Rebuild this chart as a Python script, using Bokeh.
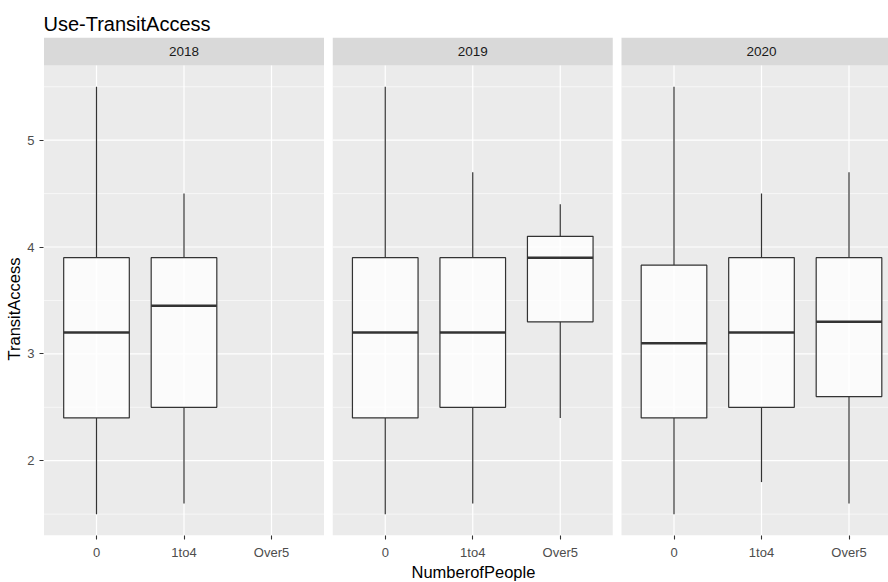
from bokeh.plotting import figure
from bokeh.models import ColumnDataSource, Range1d, FixedTicker, CustomJSTickFormatter, Title
from bokeh.core.properties import value
from bokeh.embed import file_html
from bokeh.resources import INLINE

# ---- data -------------------------------------------------------------
years = ["2018", "2019", "2020"]
people_levels = ["0", "1to4", "Over5"]
y_ticks = [2, 3, 4, 5]

box_year = ["2018", "2018", "2019", "2019", "2019", "2020", "2020", "2020"]
box_people = ["0", "1to4", "0", "1to4", "Over5", "0", "1to4", "Over5"]
whisker_low = [1.5, 1.6, 1.5, 1.6, 2.4, 1.5, 1.8, 1.6]
quart_1 = [2.4, 2.5, 2.4, 2.5, 3.3, 2.4, 2.5, 2.6]
median = [3.2, 3.45, 3.2, 3.2, 3.9, 3.1, 3.2, 3.3]
quart_3 = [3.9, 3.9, 3.9, 3.9, 4.1, 3.83, 3.9, 3.9]
whisker_high = [5.5, 4.5, 5.5, 4.7, 4.4, 5.5, 4.5, 4.7]

# ---- layout constants --------------------------------------------------
FONT = "Liberation Sans"
W, H = 888, 582
BORDER_L, BORDER_R, BORDER_T, BORDER_B = 43, 0, 37, 45
STRIP_PX = 28          # height of the facet label band
X_PX_PER_UNIT = 87.5   # one category step
PANEL_STEP = 3.3       # facet width (3.2) plus spacing, in category units
BOX_WIDTH = 0.75

n_cat = len(people_levels)
offsets = [k * PANEL_STEP for k in range(len(years))]
panel_left = [o + 0.4 for o in offsets]
panel_right = [o + n_cat + 0.6 for o in offsets]

y_lo, y_hi = min(whisker_low), max(whisker_high)
pad = 0.05 * (y_hi - y_lo)
panel_bottom, panel_top = y_lo - pad, y_hi + pad
frame_h = H - BORDER_T - BORDER_B
y_px_per_unit = (frame_h - STRIP_PX) / (panel_top - panel_bottom)
strip_top = panel_top + STRIP_PX / y_px_per_unit

frame_w = W - BORDER_L - BORDER_R
x_start = panel_left[0] - 0.5 / X_PX_PER_UNIT
x_end = x_start + frame_w / X_PX_PER_UNIT

# ---- derived sources ---------------------------------------------------
xpos = [offsets[years.index(y)] + people_levels.index(g) + 1
        for y, g in zip(box_year, box_people)]
boxes = ColumnDataSource(dict(
    x=xpos,
    left=[x - BOX_WIDTH / 2 for x in xpos],
    right=[x + BOX_WIDTH / 2 for x in xpos],
    low=whisker_low, q1=quart_1, med=median, q3=quart_3, high=whisker_high,
))

tick_pos, tick_lab = [], []
for o in offsets:
    for j, lab in enumerate(people_levels):
        tick_pos.append(o + j + 1)
        tick_lab.append(lab)

minor_y = [t - 0.5 for t in y_ticks] + [y_ticks[-1] + 0.5]
minor_y = [m for m in minor_y if panel_bottom < m < panel_top]

def hlines(levels):
    x0, x1, yy = [], [], []
    for l, r in zip(panel_left, panel_right):
        for v in levels:
            x0.append(l); x1.append(r); yy.append(v)
    return ColumnDataSource(dict(x0=x0, x1=x1, y=yy))

vgrid = ColumnDataSource(dict(x=tick_pos,
                              y0=[panel_bottom] * len(tick_pos),
                              y1=[panel_top] * len(tick_pos)))

panels = ColumnDataSource(dict(left=panel_left, right=panel_right,
                               label=years,
                               xc=[(l + r) / 2 for l, r in zip(panel_left, panel_right)],
                               yc=[(panel_top + strip_top) / 2] * len(years)))

# ---- figure ------------------------------------------------------------
p = figure(width=W, height=H, output_backend="svg", toolbar_location=None,
           x_range=Range1d(x_start, x_end), y_range=Range1d(panel_bottom, strip_top),
           min_border_left=BORDER_L, min_border_right=BORDER_R,
           min_border_top=BORDER_T, min_border_bottom=BORDER_B)
p.grid.visible = False
p.outline_line_color = None
p.background_fill_color = "white"
p.border_fill_color = "white"

# panel backgrounds and facet strips
p.quad(left="left", right="right", bottom=panel_bottom, top=panel_top,
       source=panels, fill_color="#EBEBEB", line_color=None)
p.quad(left="left", right="right", bottom=panel_top, top=strip_top,
       source=panels, fill_color="#D9D9D9", line_color=None)
p.text(x="xc", y="yc", text="label", source=panels,
       text_font=value(FONT), text_font_size="13.5px", text_color="#1A1A1A",
       text_align="center", text_baseline="middle")

# grid lines
p.segment(x0="x0", x1="x1", y0="y", y1="y", source=hlines(minor_y),
          line_color="white", line_width=0.6)
p.segment(x0="x0", x1="x1", y0="y", y1="y", source=hlines(y_ticks),
          line_color="white", line_width=1.2)
p.segment(x0="x", x1="x", y0="y0", y1="y1", source=vgrid,
          line_color="white", line_width=1.2)

# box plots
p.segment(x0="x", x1="x", y0="q3", y1="high", source=boxes,
          line_color="#333333", line_width=1.2)
p.segment(x0="x", x1="x", y0="low", y1="q1", source=boxes,
          line_color="#333333", line_width=1.2)
p.quad(left="left", right="right", bottom="q1", top="q3", source=boxes,
       fill_color="white", fill_alpha=0.8, line_color="#333333", line_width=1.2)
p.segment(x0="left", x1="right", y0="med", y1="med", source=boxes,
          line_color="#333333", line_width=2.4)

# axes
for ax in (p.xaxis[0], p.yaxis[0]):
    ax.axis_line_color = None
    ax.major_tick_line_color = "#333333"
    ax.major_tick_line_width = 1.1
    ax.major_tick_out = 4
    ax.major_tick_in = 0
    ax.minor_tick_line_color = None
    ax.major_label_text_font = FONT
    ax.major_label_text_font_size = "13px"
    ax.major_label_text_color = "#4D4D4D"

p.yaxis.ticker = FixedTicker(ticks=y_ticks, minor_ticks=[])
p.yaxis.major_label_standoff = 5
p.xaxis.ticker = FixedTicker(ticks=tick_pos, minor_ticks=[])
p.xaxis.major_label_standoff = 5
p.xaxis.formatter = CustomJSTickFormatter(args=dict(pos=tick_pos, labs=tick_lab), code="""
    let best = 0, d = Infinity;
    for (let i = 0; i < pos.length; i++) {
        const e = Math.abs(pos[i] - tick);
        if (e < d) { d = e; best = i; }
    }
    return labs[best];
""")

# titles
p.title.text = "Use-TransitAccess"
p.title.text_font = FONT
p.title.text_font_size = "20px"
p.title.text_font_style = "normal"
p.title.text_color = "black"
p.title.align = "left"
p.title.standoff = 6

p.add_layout(Title(text="NumberofPeople", align="left", offset=368,
                   text_font=FONT, text_font_size="16.5px",
                   text_font_style="normal", text_color="black",
                   standoff=0, vertical_align="top"), "below")
p.add_layout(Title(text="TransitAccess", align="left", offset=175,
                   text_font=FONT, text_font_size="16.5px",
                   text_font_style="normal", text_color="black",
                   standoff=4), "left")

open("out.html", "w").write(file_html(p, INLINE))
